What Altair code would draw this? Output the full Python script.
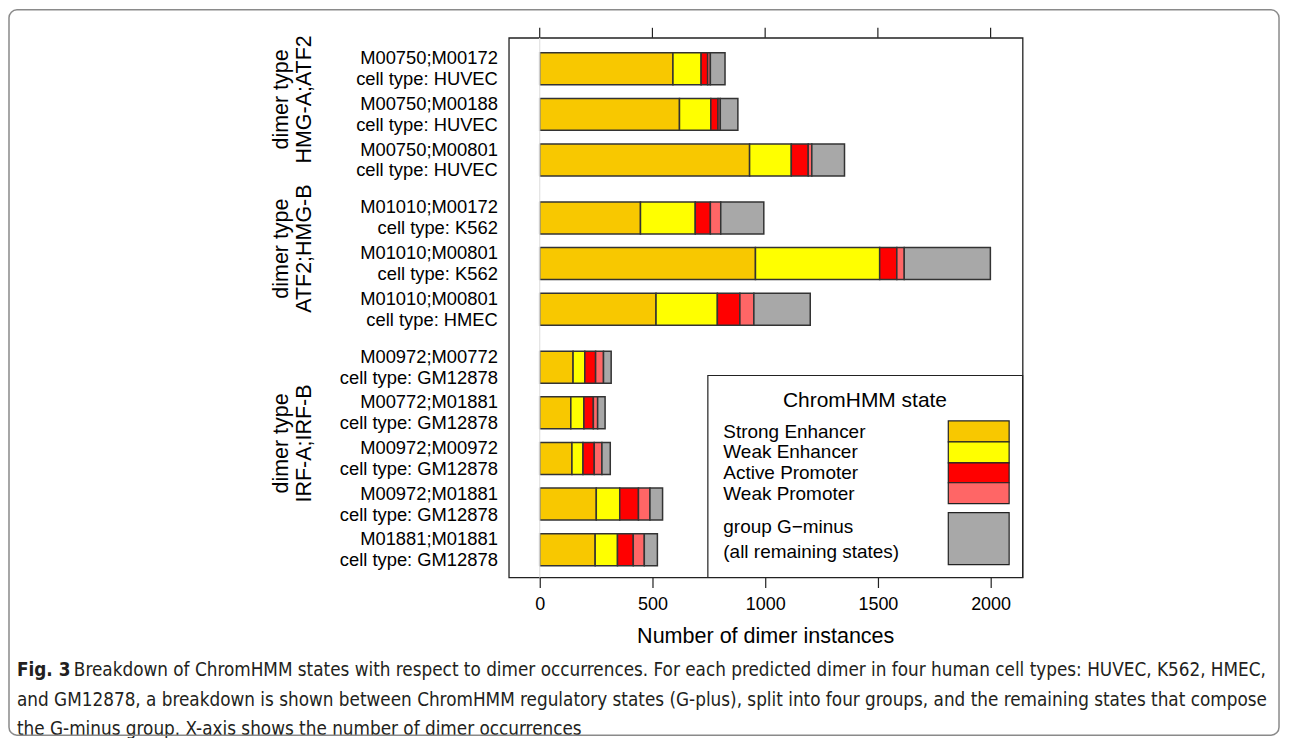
import altair as alt
import pandas as pd

# ---------------- data ----------------
dimers = ["M00750;M00172", "M00750;M00188", "M00750;M00801",
          "M01010;M00172", "M01010;M00801", "M01010;M00801",
          "M00972;M00772", "M00772;M01881", "M00972;M00972",
          "M00972;M01881", "M01881;M01881"]
cell_types = ["HUVEC", "HUVEC", "HUVEC", "K562", "K562", "HMEC",
              "GM12878", "GM12878", "GM12878", "GM12878", "GM12878"]
dimer_groups = ["HMG-A;ATF2"] * 3 + ["ATF2;HMG-B"] * 3 + ["IRF-A;IRF-B"] * 5
group_names = ["HMG-A;ATF2", "ATF2;HMG-B", "IRF-A;IRF-B"]
group_prefix = "dimer type"

states = ["Strong Enhancer", "Weak Enhancer", "Active Promoter",
          "Weak Promoter", "group G\u2212minus"]
state_colors = ["#F8C800", "#FFFF00", "#FF0000", "#FF6666", "#A8A8A8"]

strong_enhancer = [591, 620, 931, 447, 957, 516, 148, 138, 143, 251, 246]
weak_enhancer = [125, 139, 185, 243, 551, 272, 52, 58, 49, 104, 99]
active_promoter = [29, 32, 75, 67, 76, 100, 48, 42, 50, 83, 70]
weak_promoter = [12, 10, 16, 46, 33, 62, 35, 19, 34, 51, 49]
g_minus = [65, 78, 145, 191, 382, 250, 34, 33, 37, 56, 58]

x_ticks = [0, 500, 1000, 1500, 2000]

legend_title = "ChromHMM state"
legend_labels = ["Strong Enhancer", "Weak Enhancer", "Active Promoter",
                 "Weak Promoter", "group G\u2212minus", "(all remaining states)"]
x_title = "Number of dimer instances"
caption_bold = "Fig. 3"
caption_lines = [
    "Breakdown of ChromHMM states with respect to dimer occurrences. For each predicted dimer in four human cell types: HUVEC, K562, HMEC,",
    "and GM12878, a breakdown is shown between ChromHMM regulatory states (G-plus), split into four groups, and the remaining states that compose",
    "the G-minus group. X-axis shows the number of dimer occurrences",
]

# ---------------- tables ----------------
FONT = "Liberation Sans"
GAP = 0.27
series = [strong_enhancer, weak_enhancer, active_promoter, weak_promoter, g_minus]

rows = []
bars = []
for i, (d, c, g) in enumerate(zip(dimers, cell_types, dimer_groups)):
    pos = i + GAP * group_names.index(g)
    rows.append({"pos": pos, "label": f"{d}\ncell type: {c}", "group": g})
    start = 0
    for s, vals in zip(states, series):
        v = vals[i]
        bars.append({"state": s, "start": start, "end": start + v,
                     "y0": pos - 0.35, "y1": pos + 0.35})
        start += v
rows_df = pd.DataFrame(rows)
bars_df = pd.DataFrame(bars)
groups_df = (rows_df.groupby("group", sort=False)["pos"].mean().reset_index())
groups_df["prefix"] = group_prefix

xscale = alt.Scale(domain=[-137, 2142], nice=False, zero=False)
yscale = alt.Scale(domain=[-0.678, 11.15], nice=False, zero=False, reverse=True)
xaxis = alt.Axis(values=x_ticks, format="d", tickSize=10, domain=False, grid=False,
                 labelFontSize=18, labelFont=FONT, labelPadding=8,
                 labelColor="black", tickColor="#222222", tickWidth=1.2,
                 title=None, labelFlush=False)

one = pd.DataFrame({"a": [0]})

bar_layer = alt.Chart(bars_df).mark_bar(
    stroke="#333333", strokeWidth=1.5).encode(
    x=alt.X("start:Q", scale=xscale, axis=xaxis),
    x2="end:Q",
    y=alt.Y("y0:Q", scale=yscale, axis=None),
    y2="y1:Q",
    color=alt.Color("state:N", scale=alt.Scale(domain=states, range=state_colors),
                    legend=None),
)

zero_line = alt.Chart(pd.DataFrame({"v": [0]})).mark_rule(
    color="#e2e2e2", strokeWidth=1.2).encode(
    x=alt.X("v:Q", scale=xscale, axis=xaxis))

row_labels = alt.Chart(rows_df).mark_text(
    align="right", baseline="middle", lineBreak="\n", fontSize=18.4,
    lineHeight=21, font=FONT, color="black", yOffset=-10.5).encode(
    x=alt.value(-11), y=alt.Y("pos:Q", scale=yscale, axis=None), text="label:N")

group_prefix_layer = alt.Chart(groups_df).mark_text(
    align="center", baseline="middle", fontSize=21.5, font=FONT, color="black",
    angle=270, yOffset=-15).encode(
    x=alt.value(-227), y=alt.Y("pos:Q", scale=yscale, axis=None), text="prefix:N")
group_name_layer = alt.Chart(groups_df).mark_text(
    align="center", baseline="middle", fontSize=21.5, font=FONT, color="black",
    angle=270, yOffset=-15).encode(
    x=alt.value(-204), y=alt.Y("pos:Q", scale=yscale, axis=None), text="group:N")

top_ticks = alt.Chart(pd.DataFrame({"t": x_ticks})).mark_rule(
    color="#222222", strokeWidth=1.2).encode(
    x=alt.X("t:Q", scale=xscale, axis=xaxis), y=alt.value(-10), y2=alt.value(0))

axis_title = alt.Chart(one).mark_text(
    fontSize=21.6, font=FONT, color="black", baseline="middle").encode(
    x=alt.value(257.5), y=alt.value(601), text=alt.value(x_title))

# legend (drawn by hand, as in the original lattice key)
legend_box = alt.Chart(one).mark_rect(
    fill="white", stroke="#222222", strokeWidth=1.2).encode(
    x=alt.value(199.5), x2=alt.value(515), y=alt.value(338.5), y2=alt.value(541))
legend_layers = [legend_box,
                 alt.Chart(one).mark_text(fontSize=21, font=FONT, color="black",
                                          baseline="middle").encode(
                     x=alt.value(357), y=alt.value(364), text=alt.value(legend_title))]
sw_y = [(384, 405), (405, 426), (426, 446), (446, 467), (476, 528)]
for (ya, yb), s, col in zip(sw_y, states, state_colors):
    legend_layers.append(alt.Chart(one).mark_rect(
        fill=col, stroke="#222222", strokeWidth=1.2).encode(
        x=alt.value(440.5), x2=alt.value(501.5), y=alt.value(ya), y2=alt.value(yb)))
lab_y = [395, 415, 436, 457, 490, 515]
for yy, t in zip(lab_y, legend_labels):
    legend_layers.append(alt.Chart(one).mark_text(
        fontSize=19, font=FONT, color="black", align="left", baseline="middle").encode(
        x=alt.value(215), y=alt.value(yy), text=alt.value(t)))

# caption
CAP_FONT = "DejaVu Sans Condensed"
cap_layers = [alt.Chart(one).mark_text(
    fontSize=18.8, font=CAP_FONT, fontWeight="bold", color="#231f20",
    align="left", baseline="middle").encode(
    x=alt.value(-493), y=alt.value(634), text=alt.value(caption_bold))]
cap_x = [-436, -493, -493]
cap_y = [634, 664, 693]
cap_fs = [18.8, 18.8, 18.8]
for xx, yy, fs, t in zip(cap_x, cap_y, cap_fs, caption_lines):
    cap_layers.append(alt.Chart(one).mark_text(
        fontSize=fs, font=CAP_FONT, color="#231f20", align="left",
        baseline="middle").encode(
        x=alt.value(xx), y=alt.value(yy), text=alt.value(t)))

outer = alt.Chart(one).mark_rect(
    fill=None, stroke="#8a8a8a", strokeWidth=1.5, cornerRadius=8).encode(
    x=alt.value(-501), x2=alt.value(772), y=alt.value(-28), y2=alt.value(699))

chart = alt.layer(
    bar_layer, zero_line, row_labels, group_prefix_layer, group_name_layer,
    top_ticks, axis_title, *legend_layers, *cap_layers, outer
).properties(
    width=515, height=541,
    padding={"left": 502, "top": 29, "right": 262, "bottom": 160},
    autosize=alt.AutoSizeParams(type="none"),
    background="white",
).configure_view(stroke="#222222", strokeWidth=1.3)

chart.save("out.html", embed_options={"renderer": "svg", "actions": False})
